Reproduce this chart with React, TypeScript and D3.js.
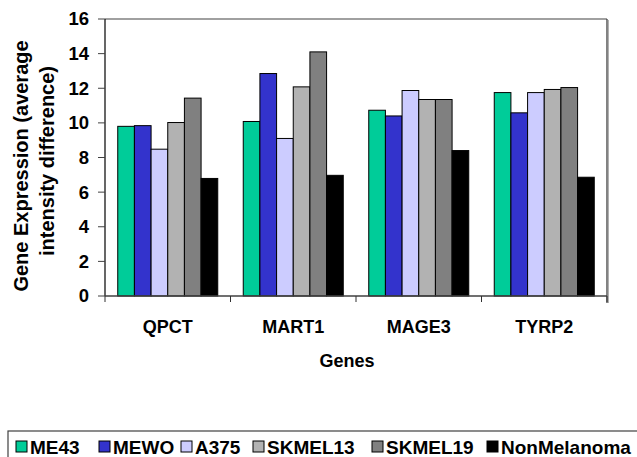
import React from "react";
import * as d3 from "d3";

const genes = ["QPCT", "MART1", "MAGE3", "TYRP2"];
const seriesNames = ["ME43", "MEWO", "A375", "SKMEL13", "SKMEL19", "NonMelanoma"];
const ME43 = [9.8, 10.08, 10.73, 11.75];
const MEWO = [9.84, 12.85, 10.4, 10.58];
const A375 = [8.48, 9.1, 11.87, 11.75];
const SKMEL13 = [10.02, 12.08, 11.35, 11.93];
const SKMEL19 = [11.43, 14.1, 11.35, 12.04];
const NonMelanoma = [6.79, 6.97, 8.4, 6.86];
const seriesValues = [ME43, MEWO, A375, SKMEL13, SKMEL19, NonMelanoma];
const colors = ["#00CC99", "#3333CC", "#CCCCFF", "#B2B2B2", "#808080", "#000000"];
const yTicks = [0, 2, 4, 6, 8, 10, 12, 14, 16];

// layout
const W = 637;
const H = 457;
const left = 105;
const right = 607;
const top = 19;
const bottom = 296;
const legendItemX = [16, 99, 181, 253, 372, 487];
const FONT = "Arial, 'Liberation Sans', Helvetica, sans-serif";

export default function App() {
  const x = d3.scaleBand<string>().domain(genes).range([left, right]).paddingInner(0).paddingOuter(0);
  const xs = d3
    .scaleBand<string>()
    .domain(seriesNames)
    .range([0, x.bandwidth()])
    .paddingInner(0)
    .paddingOuter(0.765);
  const y = d3.scaleLinear().domain([0, 16]).range([bottom, top]);
  const boundaries = [...genes.map((g) => x(g) as number), right];

  return (
    <svg
      width={W}
      height={H}
      style={{ position: "absolute", left: 0, top: 0, background: "#fff" }}
      fontFamily={FONT}
    >
      <rect x={0} y={0} width={W} height={H} fill="#fff" />
      {/* frame top / right */}
      <line x1={left} x2={right} y1={top} y2={top} stroke="#808080" strokeWidth={1.5} />
      <line x1={right + 1.5} x2={right + 1.5} y1={top + 1} y2={bottom + 7} stroke="#b0b0b0" strokeWidth={1} />
      <line x1={right} x2={right} y1={top} y2={bottom + 7} stroke="#303030" strokeWidth={1.2} />

      {/* bars */}
      {seriesValues.map((vals, si) =>
        vals.map((v, gi) => {
          const bx = (x(genes[gi]) as number) + (xs(seriesNames[si]) as number);
          return (
            <rect
              key={`${si}-${gi}`}
              x={bx}
              y={y(v)}
              width={xs.bandwidth()}
              height={bottom - y(v)}
              fill={colors[si]}
              stroke="#000"
              strokeWidth={1}
            />
          );
        })
      )}

      {/* y axis */}
      <line x1={left} x2={left} y1={top} y2={bottom} stroke="#000" strokeWidth={1.2} />
      {yTicks.map((t) => (
        <g key={t}>
          <line x1={left - 7} x2={left} y1={y(t)} y2={y(t)} stroke="#404040" strokeWidth={1} />
          <text
            x={left - 16}
            y={y(t)}
            dy="0.35em"
            textAnchor="end"
            fontSize={18.5}
            fontWeight="bold"
            fill="#000"
          >
            {t}
          </text>
        </g>
      ))}

      {/* x axis */}
      <line x1={left} x2={right} y1={bottom} y2={bottom} stroke="#404040" strokeWidth={1.5} />
      {boundaries.map((bx, i) => (
        <line key={i} x1={bx} x2={bx} y1={bottom} y2={bottom + 6} stroke="#303030" strokeWidth={1} />
      ))}
      {genes.map((g) => (
        <text
          key={g}
          x={(x(g) as number) + x.bandwidth() / 2}
          y={333}
          textAnchor="middle"
          fontSize={18}
          fontWeight="bold"
          fill="#000"
        >
          {g}
        </text>
      ))}
      <text x={347} y={367} textAnchor="middle" fontSize={18} fontWeight="bold" fill="#000">
        Genes
      </text>

      {/* y title */}
      <text
        transform={`translate(28,166) rotate(-90)`}
        textAnchor="middle"
        fontSize={20}
        fontWeight="bold"
        fill="#000"
      >
        Gene Expression (average
      </text>
      <text
        transform={`translate(54,161) rotate(-90)`}
        textAnchor="middle"
        fontSize={20}
        fontWeight="bold"
        fill="#000"
      >
        intensity difference)
      </text>

      {/* legend */}
      <rect x={8} y={431} width={660} height={40} fill="#fff" stroke="#404040" strokeWidth={1.2} />
      {seriesNames.map((s, i) => (
        <g key={s}>
          <rect x={legendItemX[i]} y={441} width={11} height={11} fill={colors[i]} stroke="#000" strokeWidth={1} />
          <text x={legendItemX[i] + 14} y={453.5} fontSize={19} fontWeight="bold" fill="#000">
            {s}
          </text>
        </g>
      ))}
    </svg>
  );
}
